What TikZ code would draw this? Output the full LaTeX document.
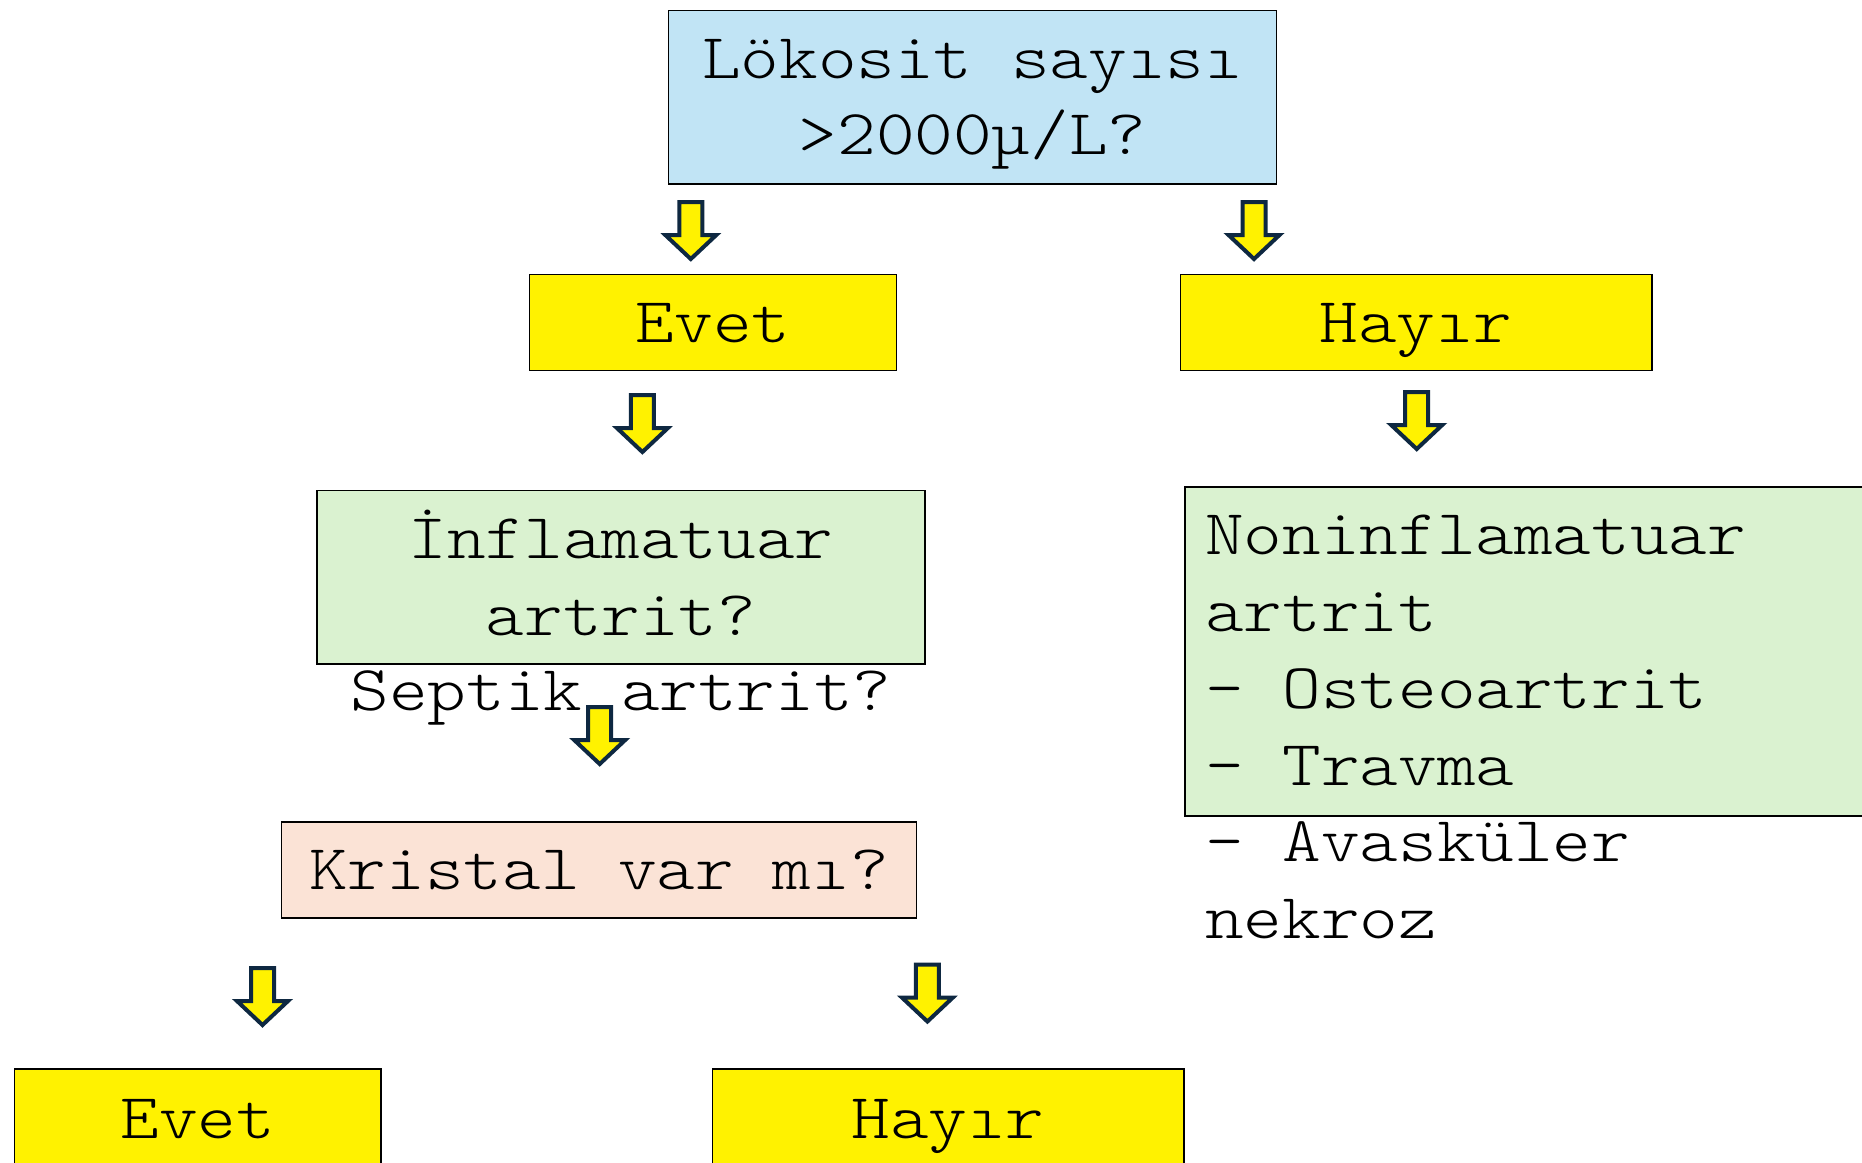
\documentclass[tikz,border=0pt]{standalone}
\usepackage{fontspec}
\setmonofont{Latin Modern Mono Light}[FakeStretch=1.15]
\newcommand\diagmono{\ttfamily}
\definecolor{boxblue}{HTML}{C1E4F5}
\definecolor{boxgreen}{HTML}{DAF2D0}
\definecolor{boxpink}{HTML}{FBE3D6}
\definecolor{arrowline}{HTML}{0E2841}
\tikzset{
  box/.style={draw=black, line width=1.5pt},
  txt/.style={inner sep=0pt, anchor=base, font=\diagmono\fontsize{64}{76.5}\selectfont},
  txtl/.style={txt, anchor=base west},
  arrstyle/.style={draw=arrowline, fill=yellow, line width=4pt, line join=miter},
  downarr/.pic={\path[arrstyle] (-11.5,0) -- (11.5,0) -- (11.5,33) -- (25.5,33) -- (0,57) -- (-25.5,33) -- (-11.5,33) -- cycle;}
}
\begin{document}
\begin{tikzpicture}[x=1pt,y=-1pt]
\useasboundingbox (0,0) rectangle (1862,1162);
\clip (0,0) rectangle (1862,1162);
% boxes
\path[box, fill=boxblue] (668.6,10.7) rectangle (1276.6,184.1);
\node[txt] (t1) at (972.6,78) {Lökosit sayısı};
\node[txt] (t2) at (972.6,154) {>2000µ/L?};

\pic (a1) at (690.8,202) {downarr};
\pic (a2) at (1254,202) {downarr};

\path[box, fill=yellow] (529.6,274.3) rectangle (896.6,370.5);
\node[txt] (evet1) at (713,342) {Evet};
\path[box, fill=yellow] (1180.4,274.3) rectangle (1651.8,370.5);
\node[txt] (hayir1) at (1416,342) {Hayır};

\pic (a3) at (642.4,395) {downarr};
\pic (a4) at (1416.7,392) {downarr};

\path[box, fill=boxgreen] (317,490.4) rectangle (925,663.8);
\node[txt] (inf1) at (621,558) {İnflamatuar};
\node[txt] (inf2) at (621,635) {artrit?};
\node[txt] (sep) at (621,710) {Septik artrit?};

\path[box, fill=boxgreen] (1185,486.9) rectangle (1880,815.8);
\node[txtl] (n1) at (1205,554.6) {Noninflamatuar};
\node[txtl] (n2) at (1205,631.4) {artrit};
\node[txtl] (n3) at (1205,708.2) {- Osteoartrit};
\node[txtl] (n4) at (1205,785) {- Travma};
\node[txtl] (n5) at (1205,861.8) {- Avasküler};
\node[txtl] (n6) at (1205,938.6) {nekroz};

\pic (a5) at (599.7,707) {downarr};

\path[box, fill=boxpink] (281.4,821.8) rectangle (916.7,917.9);
\node[txt] (kr) at (599,889) {Kristal var mı?};

\pic (a6) at (262.5,968) {downarr};
\pic (a7) at (927.4,964.5) {downarr};

\path[box, fill=yellow] (14.3,1068.8) rectangle (381.2,1180);
\node[txt] (evet2) at (197.8,1138) {Evet};
\path[box, fill=yellow] (712.5,1068.8) rectangle (1184,1180);
\node[txt] (hayir2) at (948,1138) {Hayır};
\end{tikzpicture}
\end{document}
